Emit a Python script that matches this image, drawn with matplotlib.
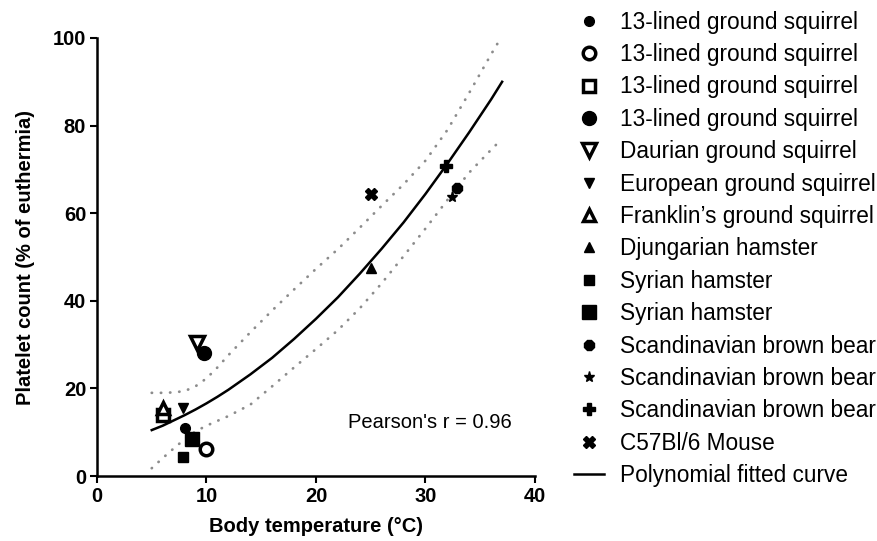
import matplotlib
matplotlib.use('Agg')
import matplotlib.pyplot as plt
from matplotlib.lines import Line2D

plt.rcParams['font.family'] = ['Liberation Sans', 'DejaVu Sans']

# groups as listed in the legend
labels = ["13-lined ground squirrel", "13-lined ground squirrel", "13-lined ground squirrel",
          "13-lined ground squirrel", "Daurian ground squirrel", "European ground squirrel",
          "Franklin\u2019s ground squirrel", "Djungarian hamster", "Syrian hamster", "Syrian hamster",
          "Scandinavian brown bear", "Scandinavian brown bear", "Scandinavian brown bear",
          "C57Bl/6 Mouse"]
temps = [8.0, 10.0, 6.0, 9.8, 9.1, 7.9, 6.0, 25.0, 7.9, 8.7, 32.9, 32.4, 31.9, 25.0]
platelets = [11.0, 6.2, 14.0, 28.2, 30.4, 15.5, 15.5, 47.6, 4.3, 8.4, 65.8, 63.8, 70.8, 64.5]

# fitted curve and dotted band
fit_x = [5, 6, 7, 8, 9, 10, 11, 12, 14, 16, 18, 20, 22, 24, 26, 28, 30, 32, 34, 36, 37]
fit_y = [10.5, 11.5, 12.7, 13.9, 15.2, 16.6, 18.1, 19.7, 23.2, 27.0, 31.3, 35.9, 40.8, 46.2, 51.9, 57.9, 64.4, 71.3, 78.5, 86.0, 90.0]
upper_y = [19.0, 19.0, 19.1, 19.4, 20.5, 22.3, 24.8, 27.6, 32.8, 37.8, 42.6, 47.3, 51.8, 56.7, 61.7, 66.6, 72.0, 79.0, 87.5, 96.3, 100.5]
lower_y = [1.8, 4.1, 6.3, 8.4, 10.2, 11.5, 12.6, 13.7, 16.3, 20.5, 24.8, 29.0, 33.3, 38.3, 44.0, 50.2, 56.5, 63.0, 69.3, 74.5, 77.0]

styles = [
    dict(marker='o', ms=7, mfc='black'),
    dict(marker='o', ms=9, mfc='white', mew=2.5),
    dict(marker='s', ms=8, mfc='white', mew=2.5),
    dict(marker='o', ms=10, mfc='black'),
    dict(marker='v', ms=10, mfc='white', mew=2.5),
    dict(marker='v', ms=7, mfc='black'),
    dict(marker='^', ms=9, mfc='white', mew=2.5),
    dict(marker='^', ms=7, mfc='black'),
    dict(marker='s', ms=7, mfc='black'),
    dict(marker='s', ms=10, mfc='black'),
    dict(marker='8', ms=8, mfc='black'),
    dict(marker='*', ms=8, mfc='black'),
    dict(marker='P', ms=8, mfc='black'),
    dict(marker='X', ms=9, mfc='black'),
]

fig = plt.figure(figsize=(8.77, 5.41), dpi=100)
ax = fig.add_axes([0.1106, 0.12, 0.4994, 0.8098])

ax.plot(fit_x, upper_y, color='#8c8c8c', lw=2, ls=(0, (0.1, 3.2)), dash_capstyle='round')
ax.plot(fit_x, lower_y, color='#8c8c8c', lw=2, ls=(0, (0.1, 3.2)), dash_capstyle='round')
ax.plot(fit_x, fit_y, color='black', lw=1.8)

handles = []
for x, y, lab, st in zip(temps, platelets, labels, styles):
    ax.plot([x], [y], ls='none', color='black', mec='black', clip_on=False, **st)
    handles.append(Line2D([], [], ls='none', color='black', mec='black', label=lab, **st))
handles.append(Line2D([], [], color='black', lw=1.8, label='Polynomial fitted curve'))

ax.text(22.9, 12.3, "Pearson's r = 0.96", fontsize=14.5, va='center')

ax.set_xlim(0, 40)
ax.set_ylim(0, 100)
ax.set_xticks([0, 10, 20, 30, 40])
ax.set_yticks([0, 20, 40, 60, 80, 100])
for s in ['top', 'right']:
    ax.spines[s].set_visible(False)
for s in ['left', 'bottom']:
    ax.spines[s].set_linewidth(1.8)
ax.tick_params(direction='out', length=4.8, width=1.5, labelsize=14.5, pad=3)
for t in ax.get_xticklabels() + ax.get_yticklabels():
    t.set_fontweight('bold')
ax.set_xlabel('Body temperature (\u00b0C)', fontsize=14.5, fontweight='bold', labelpad=8)
ax.set_ylabel('Platelet count (% of euthermia)', fontsize=14.5, fontweight='bold', labelpad=13)

fig.legend(handles=handles, loc='upper left', bbox_to_anchor=(0.6316, 1.018), frameon=False,
           fontsize=16.3, labelspacing=0.415, handlelength=1.33, handletextpad=0.7)

fig.savefig('out.png', dpi=100)
